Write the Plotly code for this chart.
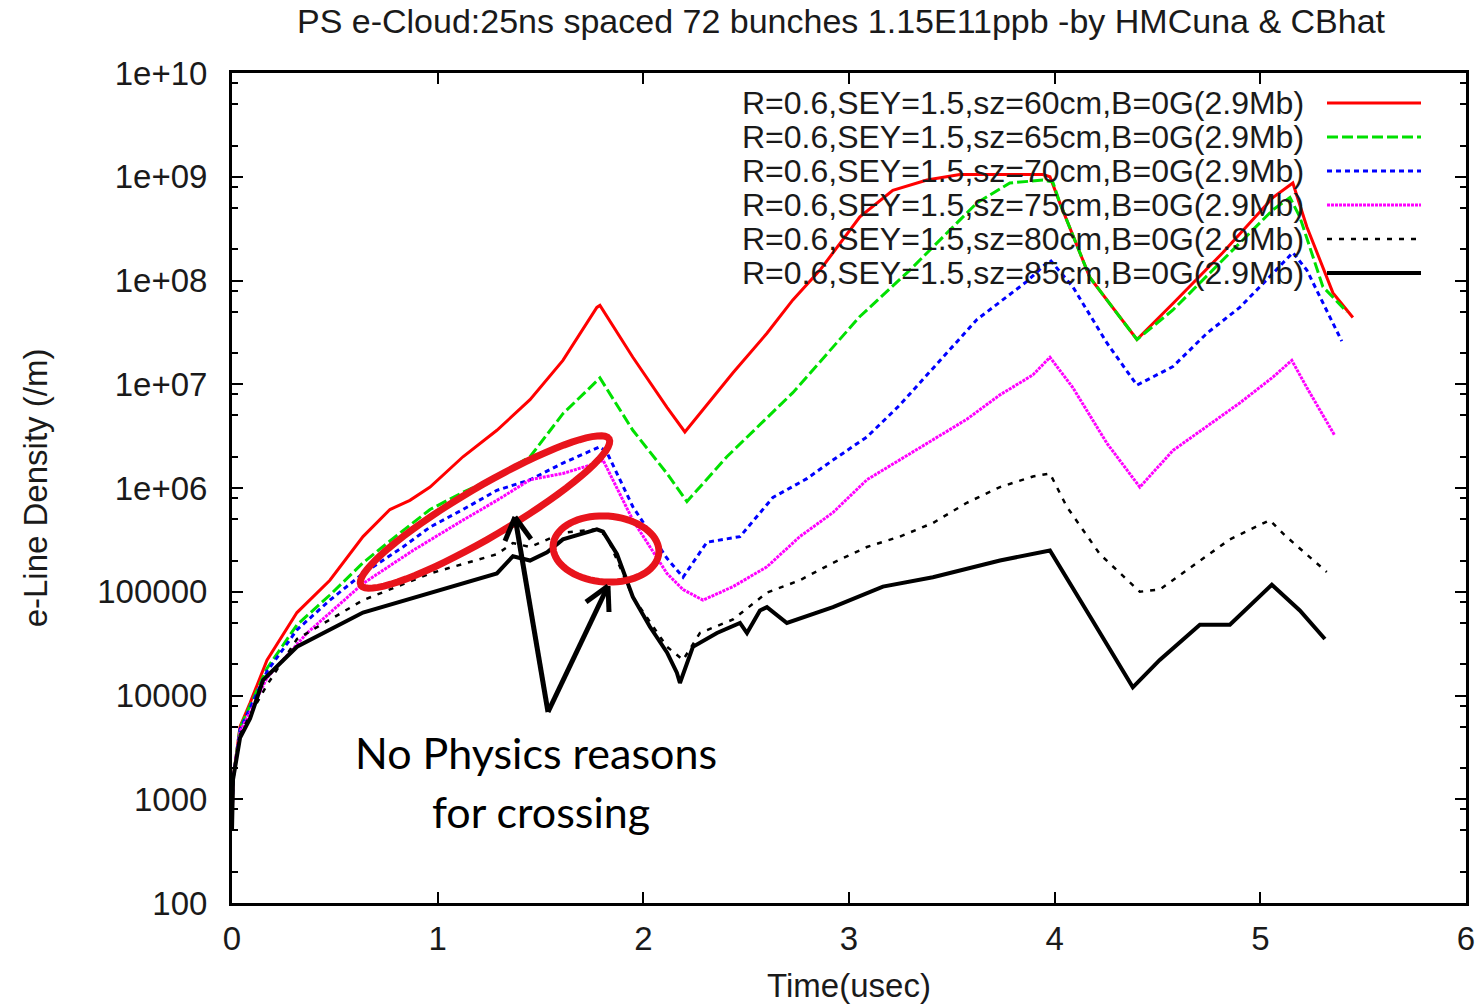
import numpy as np
import plotly.graph_objects as go

# ---------------- data ----------------
t_60 = [0.0, 0.005, 0.039, 0.088, 0.170, 0.316, 0.476, 0.637, 0.768, 0.865, 0.963, 1.123, 1.288, 1.449,
        1.609, 1.774, 1.789, 1.949, 2.115, 2.202, 2.436, 2.601, 2.727, 2.859, 3.053, 3.213, 3.379, 3.539,
        3.734, 3.943, 3.977, 4.025, 4.171, 4.400, 4.575, 4.818, 5.061, 5.158, 5.226, 5.353, 5.450]
n_60 = [500, 1550, 5000, 8500, 2.19e4, 6.3e4, 1.29e5, 3.4e5, 6.2e5, 7.6e5, 1.02e6, 2.0e6, 3.6e6, 7.1e6,
        1.7e7, 5.5e7, 5.75e7, 1.82e7, 6.0e6, 3.47e6, 1.29e7, 3.1e7, 6.5e7, 1.26e8, 4.1e8, 7.4e8, 9.3e8, 1.05e9,
        1.05e9, 1.05e9, 1.0e9, 5.6e8, 1.07e8, 2.7e7, 6.0e7, 1.86e8, 6.3e8, 8.7e8, 3.3e8, 7.6e7, 4.4e7]

t_65 = [0.0, 0.005, 0.039, 0.088, 0.170, 0.316, 0.476, 0.637, 0.802, 0.963, 1.123, 1.288, 1.449, 1.609,
        1.789, 1.949, 2.115, 2.212, 2.406, 2.727, 3.053, 3.296, 3.456, 3.622, 3.782, 3.943, 3.991, 4.025,
        4.171, 4.400, 4.575, 4.818, 5.061, 5.144, 5.192, 5.304, 5.421]
n_65 = [500, 1550, 4900, 7900, 1.82e4, 4.8e4, 9.3e4, 1.9e5, 3.5e5, 6.2e5, 9.1e5, 1.29e6, 2.0e6, 5.2e6,
        1.15e7, 3.6e6, 1.38e6, 7.4e5, 2.0e6, 8.3e6, 4.5e7, 1.26e8, 2.6e8, 5.6e8, 8.7e8, 9.3e8, 8.9e8, 5.6e8,
        1.07e8, 2.7e7, 5.2e7, 1.58e8, 4.8e8, 6.3e8, 4.1e8, 8.7e7, 5.0e7]

t_70 = [0.0, 0.005, 0.039, 0.088, 0.170, 0.316, 0.476, 0.637, 0.831, 0.963, 1.123, 1.288, 1.449, 1.609,
        1.789, 1.823, 1.949, 2.115, 2.193, 2.309, 2.470, 2.630, 2.795, 2.922, 3.087, 3.247, 3.393, 3.622,
        3.865, 3.977, 4.088, 4.254, 4.400, 4.575, 4.740, 4.900, 5.061, 5.158, 5.226, 5.304, 5.396]
n_70 = [500, 1550, 4700, 7600, 1.7e4, 4.3e4, 8.3e4, 1.5e5, 2.7e5, 4.2e5, 6.2e5, 9.5e5, 1.2e6, 1.74e6,
        2.5e6, 2.2e6, 6.6e5, 2.1e5, 1.38e5, 3.0e5, 3.4e5, 8.1e5, 1.23e6, 1.86e6, 3.1e6, 6.3e6, 1.32e7, 4.2e7,
        9.8e7, 1.58e8, 8.7e7, 2.5e7, 9.8e6, 1.48e7, 3.1e7, 5.5e7, 1.17e8, 1.86e8, 1.26e8, 6.0e7, 2.6e7]

t_75 = [0.0, 0.005, 0.039, 0.088, 0.170, 0.365, 0.637, 0.880, 1.123, 1.288, 1.449, 1.609, 1.774, 1.804,
        1.949, 2.115, 2.193, 2.290, 2.436, 2.601, 2.761, 2.922, 3.087, 3.247, 3.408, 3.573, 3.734, 3.894,
        3.977, 4.088, 4.254, 4.414, 4.575, 4.740, 4.900, 5.061, 5.153, 5.226, 5.362]
n_75 = [500, 1550, 4500, 6900, 1.48e4, 4.0e4, 1.2e5, 2.5e5, 4.9e5, 7.6e5, 1.2e6, 1.38e6, 1.74e6, 1.86e6,
        4.9e5, 1.5e5, 1.05e5, 8.3e4, 1.12e5, 1.74e5, 3.4e5, 5.8e5, 1.2e6, 1.86e6, 2.9e6, 4.6e6, 7.9e6, 1.23e7,
        1.82e7, 9.3e6, 2.7e6, 1.02e6, 2.3e6, 3.9e6, 6.6e6, 1.17e7, 1.7e7, 9.3e6, 3.2e6]

t_80 = [0.0, 0.005, 0.039, 0.088, 0.170, 0.316, 0.637, 0.963, 1.288, 1.366, 1.449, 1.609, 1.774, 1.823,
        1.949, 2.115, 2.193, 2.275, 2.436, 2.601, 2.761, 2.922, 3.087, 3.247, 3.408, 3.573, 3.734, 3.894,
        3.977, 4.059, 4.220, 4.414, 4.511, 4.706, 4.852, 5.046, 5.119, 5.323]
n_80 = [500, 1550, 4200, 6500, 1.26e4, 3.5e4, 8.3e4, 1.5e5, 2.3e5, 2.95e5, 2.7e5, 3.7e5, 4.0e5, 3.4e5,
        8.9e4, 2.95e4, 2.2e4, 4.0e4, 5.4e4, 9.8e4, 1.29e5, 1.9e5, 2.7e5, 3.4e5, 4.6e5, 7.2e5, 1.02e6, 1.29e6,
        1.38e6, 6.6e5, 2.3e5, 1.0e5, 1.05e5, 2.0e5, 3.2e5, 4.9e5, 3.5e5, 1.55e5]

t_85 = [0.0, 0.005, 0.039, 0.088, 0.151, 0.316, 0.637, 0.963, 1.288, 1.366, 1.449, 1.532, 1.609, 1.774,
        1.804, 1.872, 1.949, 2.032, 2.115, 2.163, 2.178, 2.241, 2.358, 2.470, 2.504, 2.567, 2.601, 2.698,
        2.922, 3.165, 3.408, 3.734, 3.977, 4.181, 4.380, 4.511, 4.706, 4.852, 5.056, 5.192, 5.314]
n_85 = [500, 1550, 3900, 6000, 1.41e4, 2.95e4, 6.3e4, 9.8e4, 1.5e5, 2.2e5, 2.0e5, 2.4e5, 3.2e5, 4.0e5,
        3.8e5, 2.3e5, 8.9e4, 4.6e4, 2.6e4, 1.66e4, 1.32e4, 2.95e4, 4.0e4, 5.0e4, 4.0e4, 6.6e4, 7.1e4, 5.0e4,
        7.1e4, 1.12e5, 1.38e5, 2.0e5, 2.5e5, 5.4e4, 1.2e4, 2.2e4, 4.8e4, 4.8e4, 1.17e5, 6.6e4, 3.5e4]

series_names = ["R=0.6,SEY=1.5,sz=60cm,B=0G(2.9Mb)", "R=0.6,SEY=1.5,sz=65cm,B=0G(2.9Mb)",
                "R=0.6,SEY=1.5,sz=70cm,B=0G(2.9Mb)", "R=0.6,SEY=1.5,sz=75cm,B=0G(2.9Mb)",
                "R=0.6,SEY=1.5,sz=80cm,B=0G(2.9Mb)", "R=0.6,SEY=1.5,sz=85cm,B=0G(2.9Mb)"]
x_ticks = [0, 1, 2, 3, 4, 5, 6]
y_ticks = [1e2, 1e3, 1e4, 1e5, 1e6, 1e7, 1e8, 1e9, 1e10]
y_tick_text = ["100", "1000", "10000", "100000", "1e+06", "1e+07", "1e+08", "1e+09", "1e+10"]

# ---------------- styles ----------------
styles = [
    dict(color="#ff0000", width=3, dash="solid"),
    dict(color="#00e000", width=3, dash="11px,4px"),
    dict(color="#0000ff", width=3, dash="5px,4px"),
    dict(color="#ff00ff", width=3, dash="3px,1px"),
    dict(color="#000000", width=2.5, dash="5px,7px"),
    dict(color="#000000", width=4, dash="solid"),
]
xs = [t_60, t_65, t_70, t_75, t_80, t_85]
ys = [n_60, n_65, n_70, n_75, n_80, n_85]

FONT = "Liberation Sans, Arial, sans-serif"
TXT = "#1a1a1a"
W, H = 1480, 1004
L, R, T, B = 232, 14, 73, 101
PW, PH = W - L - R, H - T - B


def px(xp):
    return (xp - L) / PW


def py(yp):
    return (H - B - yp) / PH


fig = go.Figure()
for xv, yv, nm, st in zip(xs, ys, series_names, styles):
    fig.add_trace(go.Scatter(x=xv, y=yv, mode="lines", name=nm, showlegend=False,
                             line=dict(color=st["color"], width=st["width"], dash=st["dash"])))

shapes = []
annotations = []

# gnuplot-style key (text then sample line)
row_y = [103, 137, 171, 205, 239, 273]
for nm, st, ry in zip(series_names, styles, row_y):
    annotations.append(dict(x=px(1306), y=py(ry), xref="paper", yref="paper", text=nm, showarrow=False,
                            xanchor="right", yanchor="middle", font=dict(family=FONT, size=32, color=TXT)))
    shapes.append(dict(type="line", xref="paper", yref="paper", x0=px(1327), x1=px(1421), y0=py(ry), y1=py(ry),
                       line=dict(color=st["color"], width=st["width"], dash=st["dash"])))


def ellipse_path(cx, cy, a, b, ang_deg):
    s = np.linspace(0, 2 * np.pi, 73)
    phi = np.deg2rad(ang_deg)
    u, v = a * np.cos(s), b * np.sin(s)
    xp = cx + u * np.cos(phi) - v * np.sin(phi)
    yp = cy - (u * np.sin(phi) + v * np.cos(phi))
    pts = [f"{px(x):.5f},{py(y):.5f}" for x, y in zip(xp, yp)]
    return "M " + " L ".join(pts) + " Z"


ell_red = "#e8141c"
shapes.append(dict(type="path", xref="paper", yref="paper", path=ellipse_path(485, 512, 144, 25, 30.5),
                   line=dict(color=ell_red, width=7)))
shapes.append(dict(type="path", xref="paper", yref="paper", path=ellipse_path(606, 549, 53, 33, -4),
                   line=dict(color=ell_red, width=7)))

# arrows
arrow_segments = [((548, 712), (515, 517)), ((515, 517), (505, 541)), ((515, 517), (531, 539)),
                  ((548, 712), (608, 586)), ((608, 586), (586, 602)), ((608, 586), (609, 612))]
for (x0, y0), (x1, y1) in arrow_segments:
    shapes.append(dict(type="line", xref="paper", yref="paper", x0=px(x0), y0=py(y0), x1=px(x1), y1=py(y1),
                       line=dict(color="black", width=5)))

annotations.append(dict(x=px(536), y=py(752), xref="paper", yref="paper", text="No Physics reasons",
                        showarrow=False, xanchor="center", yanchor="middle",
                        font=dict(family="Lato, Carlito, sans-serif", size=43, color="black")))
annotations.append(dict(x=px(541), y=py(811), xref="paper", yref="paper", text="for crossing",
                        showarrow=False, xanchor="center", yanchor="middle",
                        font=dict(family="Lato, Carlito, sans-serif", size=43, color="black")))

axis_common = dict(showline=True, linewidth=3, linecolor="black", mirror="ticks", ticks="inside",
                   ticklen=11, tickwidth=2, tickcolor="black", showgrid=False, zeroline=False,
                   tickfont=dict(family=FONT, size=33, color=TXT))

minor_vals = []
for dec in range(2, 10):
    for m in (2, 5, 8):
        minor_vals.append(m * 10 ** dec)

fig.update_layout(
    width=W, height=H,
    margin=dict(l=L, r=R, t=T, b=B, autoexpand=False),
    paper_bgcolor="white", plot_bgcolor="white",
    title=dict(text="PS e-Cloud:25ns spaced 72 bunches 1.15E11ppb -by HMCuna & CBhat",
               x=841 / W, xanchor="center", y=1 - 21 / H, yanchor="middle", yref="container",
               font=dict(family=FONT, size=34, color=TXT)),
    xaxis=dict(range=[0, 6], tickmode="array", tickvals=x_ticks, ticklabelstandoff=4,
               title=dict(text="Time(usec)", standoff=22, font=dict(family=FONT, size=33, color=TXT)),
               **axis_common),
    yaxis=dict(type="log", range=[2, 10], tickmode="array", tickvals=y_ticks, ticktext=y_tick_text,
               ticklabelstandoff=15,
               minor=dict(tickmode="array", tickvals=minor_vals, ticks="inside", ticklen=6, tickwidth=2,
                          tickcolor="black"),
               title=dict(text="e-Line Density (/m)", standoff=40, font=dict(family=FONT, size=33, color=TXT)),
               **axis_common),
    shapes=shapes,
    annotations=annotations,
)

fig.write_html("out.html")
